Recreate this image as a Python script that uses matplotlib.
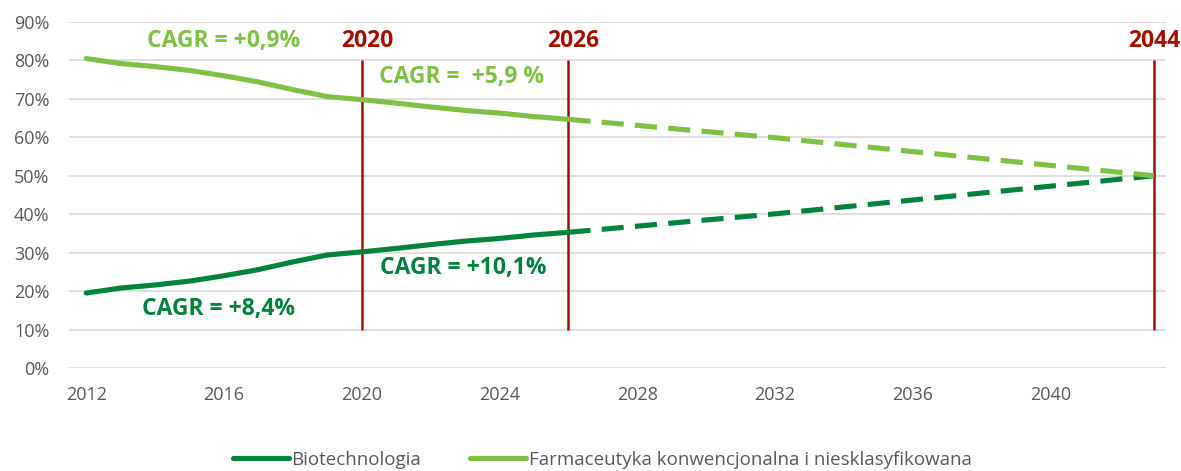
import matplotlib
matplotlib.use("Agg")
from matplotlib import pyplot as plt
import numpy as np

# data
years_hist = list(range(2012, 2027))
farma_hist = [80.5, 79.2, 78.4, 77.4, 76.0, 74.4, 72.4, 70.6, 69.8, 68.9, 67.9, 67.0, 66.3, 65.4, 64.7]
bio_hist = [19.5, 20.8, 21.6, 22.6, 24.0, 25.6, 27.6, 29.4, 30.2, 31.1, 32.1, 33.0, 33.7, 34.6, 35.3]

years_proj = list(range(2026, 2044))
farma_proj = [64.7, 63.9, 63.1, 62.3, 61.5, 60.7, 59.9, 59.0, 58.1, 57.2, 56.3, 55.4, 54.5, 53.6, 52.7, 51.8, 50.9, 50.0]
bio_proj = [35.3, 36.1, 36.9, 37.7, 38.5, 39.3, 40.1, 41.0, 41.9, 42.8, 43.7, 44.6, 45.5, 46.4, 47.3, 48.2, 49.1, 50.0]

marker_years = [2020, 2026, 2043]
marker_labels = ["2020", "2026", "2044"]

x_ticks = list(range(2012, 2041, 4))
y_ticks = list(range(0, 91, 10))

DARK = "#00843D"
LIGHT = "#7DC242"
RED = "#A50F00"
GREY = "#595959"

plt.rcParams['font.family'] = ['Open Sans', 'DejaVu Sans']

fig = plt.figure(figsize=(11.81, 4.71), dpi=100)
ax = fig.add_axes([69/1181, 1-368/471, (1166-69)/1181, (368-22)/471])

ax.set_ylim(0, 90)
ax.set_xlim(2011.5, 2043.35)
ax.set_yticks(y_ticks)
ax.set_yticklabels([f"{v}%" for v in y_ticks])
ax.set_xticks(x_ticks)
ax.set_xticklabels([str(v) for v in x_ticks])
ax.grid(axis='y', color="#D9D9D9", lw=1.2)
ax.set_axisbelow(True)
for s in ax.spines.values():
    s.set_visible(False)
ax.tick_params(length=0, labelsize=13, labelcolor=GREY)
ax.tick_params(axis='x', pad=13)
ax.tick_params(axis='y', pad=14)

ax.vlines(marker_years, 10, 80, color=RED, lw=1.8, zorder=2)
for yr, lab in zip(marker_years[:2], marker_labels[:2]):
    ax.text(yr + 0.15, 85, lab, color=RED, fontsize=16.5, fontweight='bold',
            ha='center', va='center')
# last label sits right against the figure edge
ax.text(2043.0, 85, marker_labels[2], color=RED, fontsize=16.5, fontweight='bold',
        ha='center', va='center')

lw = 3.7
ax.plot(years_hist, bio_hist, color=DARK, lw=lw, solid_capstyle='round', label="Biotechnologia", zorder=3)
ax.plot(years_hist, farma_hist, color=LIGHT, lw=lw, solid_capstyle='round',
        label="Farmaceutyka konwencjonalna i niesklasyfikowana", zorder=3)
ax.plot(years_proj, bio_proj, color=DARK, lw=lw, dashes=(4.3, 2.2), zorder=3)
ax.plot(years_proj, farma_proj, color=LIGHT, lw=lw, dashes=(4.3, 2.2), zorder=3)

cagr_size = 16.5
ax.text(2016, 85, "CAGR = +0,9%", color=LIGHT, fontsize=cagr_size, fontweight='bold', ha='center', va='center')
ax.text(2022.9, 75.8, "CAGR =  +5,9 %", color=LIGHT, fontsize=cagr_size, fontweight='bold', ha='center', va='center')
ax.text(2022.95, 26, "CAGR = +10,1%", color=DARK, fontsize=cagr_size, fontweight='bold', ha='center', va='center')
ax.text(2015.85, 15.3, "CAGR = +8,4%", color=DARK, fontsize=cagr_size, fontweight='bold', ha='center', va='center')

leg = fig.legend(loc='center', bbox_to_anchor=(0.51, 1-460/471), ncol=2, frameon=False,
                 fontsize=13.5, handlelength=3.0, handletextpad=0.15, columnspacing=2.6)
for t in leg.get_texts():
    t.set_color(GREY)

fig.savefig("out.png", dpi=100)
